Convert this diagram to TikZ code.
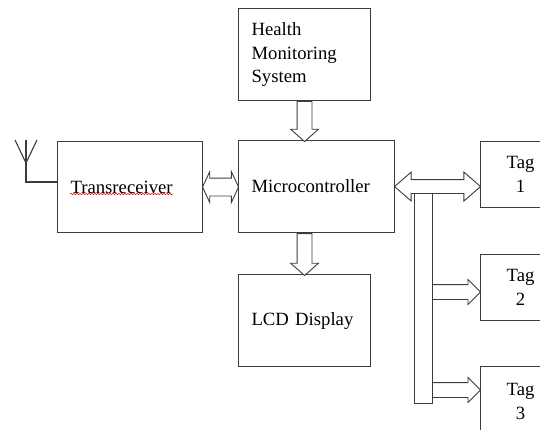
\documentclass[tikz,border=0pt]{standalone}
\usepackage{fontspec}
\setmainfont{Liberation Serif}
\usetikzlibrary{shapes.arrows,calc,decorations.pathmorphing}
\definecolor{lc}{RGB}{60,60,60}
\begin{document}
\begin{tikzpicture}[x=1pt,y=-1pt,
  box/.style={draw=lc,line width=1.1pt,anchor=north west,inner xsep=13pt,inner ysep=0pt,
    align=left,font=\fontsize{18.7}{23.5}\selectfont},
  tagbox/.style={draw=lc,line width=1.1pt,anchor=north west,minimum width=80pt,inner sep=0pt,
    align=center,font=\fontsize{18.7}{23.5}\selectfont},
  sarrow/.style={single arrow,draw=lc,fill=white,line width=0.9pt,inner xsep=0pt},
  darrow/.style={double arrow,draw=lc,fill=white,line width=0.9pt,inner xsep=0pt},
  wire/.style={draw=lc,line width=1.1pt},
]
\useasboundingbox (0,0) rectangle (540,430);
\clip (0,0) rectangle (540,430);

% boxes
\node[box,text width=106pt,minimum height=92pt] (hm) at (238,8) {Health\\Monitoring\\System};
\node[box,text width=130pt,minimum height=92pt] (mc) at (238,140) {Microcontroller};
\node[box,text width=106pt,minimum height=92pt] (lcd) at (238,274) {LCD Display};
\node[box,text width=119pt,minimum height=91pt] (tr) at (57,141) {Transreceiver};
\node[tagbox,minimum height=66pt] (t1) at (480,141) {Tag\\1};
\node[tagbox,minimum height=66pt] (t2) at (480,254) {Tag\\2};
\node[tagbox,minimum height=70pt] (t3) at (480,366) {Tag\\3};

% spell-check squiggle
\draw[red,line width=0.5pt,decorate,decoration={snake,amplitude=0.7pt,segment length=3pt}]
  (70,194) -- (173,194);

% antenna
\coordinate (ant) at (26,182);
\coordinate (antTop) at (26,140);
\coordinate (antL) at (15,140);
\coordinate (antR) at (37,140);
\coordinate (antV) at (26,163);
\draw[wire] (tr.west |- ant) -- (ant) -- (antTop);
\draw[wire] (antL) -- (antV) -- (antR);

% vertical arrows
\node[sarrow,rotate=-90,anchor=tail,minimum height=40pt,inner ysep=7pt,
  single arrow head extend=6.5pt,single arrow tip angle=97] (a1) at (hm.south) {};
\node[sarrow,rotate=-90,anchor=tail,minimum height=42pt,inner ysep=7pt,
  single arrow head extend=6.5pt,single arrow tip angle=97] (a2) at (mc.south -| hm.south) {};

% transreceiver <-> microcontroller
\node[darrow,minimum height=36pt,inner ysep=8.5pt,
  double arrow head extend=6.5pt,double arrow tip angle=130] (a3)
  at ($(tr.east)!0.5!(mc.west |- tr.east)$) {};

% bus
\coordinate (busTL) at (414,192);
\coordinate (busTR) at (432,192);
\coordinate (busBL) at (414,403);
\coordinate (busBR) at (432,403);
\draw[wire,line width=0.9pt] (busTL) -- (busBL) -- (busBR) -- (busTR);

% microcontroller <-> tag 1
\node[darrow,minimum height=86pt,inner ysep=6.5pt,
  double arrow head extend=7.5pt,double arrow tip angle=82] (a4)
  at ($(mc.east)!0.5!(mc.east -| t1.west)$) {};

% bus -> tags
\coordinate (b2) at (432,292);
\coordinate (b3) at (432,390);
\node[sarrow,anchor=tail,minimum height=48pt,inner ysep=7pt,
  single arrow head extend=5pt,single arrow tip angle=90] (a5) at (b2) {};
\node[sarrow,anchor=tail,minimum height=48pt,inner ysep=7pt,
  single arrow head extend=5pt,single arrow tip angle=90] (a6) at (b3) {};
\end{tikzpicture}
\end{document}
